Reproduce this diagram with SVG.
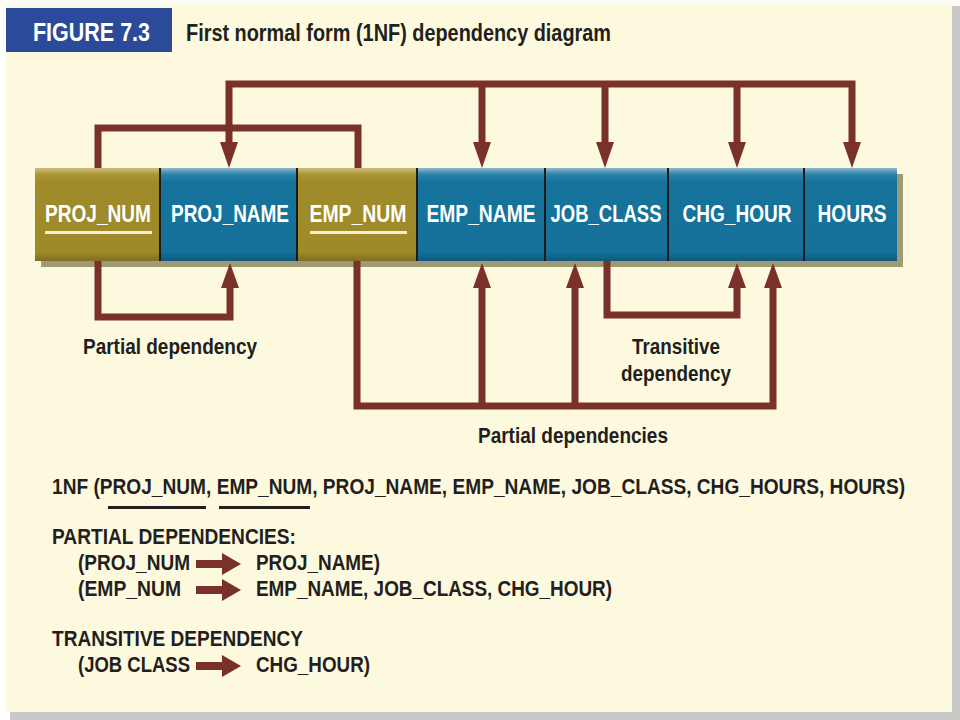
<svg xmlns="http://www.w3.org/2000/svg" width="960" height="720" viewBox="0 0 960 720">
<style>
text{font-family:"Liberation Sans Narrow","Liberation Sans",Arial,sans-serif;font-weight:bold}
.lbl{fill:#ffffff;font-size:23px;text-anchor:middle}
.dk{fill:#231f20;font-size:22px}
.ln{fill:none;stroke:#7a3129;stroke-width:7;stroke-linejoin:miter;stroke-linecap:butt}
.ah{fill:#7a3129}
.blue{fill:url(#gBlue)}
.olive{fill:url(#gOlive)}
.sep{stroke:#1b1b1b;stroke-width:2}
</style>
<defs>
<linearGradient id="gBlue" x1="0" y1="0" x2="0" y2="1">
<stop offset="0" stop-color="#8fb9cf"/>
<stop offset="0.07" stop-color="#2a84a8"/>
<stop offset="0.15" stop-color="#16739a"/>
<stop offset="0.9" stop-color="#15719a"/>
<stop offset="1" stop-color="#0e5a7c"/>
</linearGradient>
<linearGradient id="gOlive" x1="0" y1="0" x2="0" y2="1">
<stop offset="0" stop-color="#cdbf7a"/>
<stop offset="0.07" stop-color="#ab9534"/>
<stop offset="0.15" stop-color="#a08b2a"/>
<stop offset="0.9" stop-color="#9f8a2a"/>
<stop offset="1" stop-color="#7f6e1f"/>
</linearGradient>
</defs>

<!-- page -->
<rect x="0" y="0" width="960" height="720" fill="#ffffff"/>
<rect x="10" y="6" width="950" height="714" fill="#c9c9c9"/>
<rect x="6" y="0" width="946" height="712" fill="#fdf9de"/>
<rect x="0" y="0" width="960" height="6" fill="#fdfcf4"/>

<!-- header -->
<g id="header">
<rect x="6" y="8" width="166" height="44" fill="#2b4a9a"/>
<text x="33" y="41" fill="#ffffff" style="font-size:26px" textLength="117" lengthAdjust="spacingAndGlyphs">FIGURE 7.3</text>
<text x="186" y="41" class="dk" style="font-size:24px" textLength="425" lengthAdjust="spacingAndGlyphs">First normal form (1NF) dependency diagram</text>
</g>

<!-- box shadow -->
<rect x="41" y="174" width="862" height="93" fill="#8e8862" opacity="0.85"/>

<g id="PROJ_NUM">
<rect x="35" y="168" width="125" height="93" class="olive"/>
<text x="98" y="222" class="lbl" textLength="106" lengthAdjust="spacingAndGlyphs">PROJ_NUM</text>
<rect x="45" y="231" width="107" height="3" fill="#f3efd6"/>
</g>
<g id="PROJ_NAME">
<rect x="160" y="168" width="137" height="93" class="blue"/>
<text x="230" y="222" class="lbl" textLength="118" lengthAdjust="spacingAndGlyphs">PROJ_NAME</text>
</g>
<g id="EMP_NUM">
<rect x="297" y="168" width="120" height="93" class="olive"/>
<text x="358" y="222" class="lbl" textLength="97" lengthAdjust="spacingAndGlyphs">EMP_NUM</text>
<rect x="310" y="231" width="97" height="3" fill="#f3efd6"/>
</g>
<g id="EMP_NAME">
<rect x="417" y="168" width="128" height="93" class="blue"/>
<text x="481" y="222" class="lbl" textLength="109" lengthAdjust="spacingAndGlyphs">EMP_NAME</text>
</g>
<g id="JOB_CLASS">
<rect x="545" y="168" width="123" height="93" class="blue"/>
<text x="606" y="222" class="lbl" textLength="111" lengthAdjust="spacingAndGlyphs">JOB_CLASS</text>
</g>
<g id="CHG_HOUR">
<rect x="668" y="168" width="136" height="93" class="blue"/>
<text x="737" y="222" class="lbl" textLength="109" lengthAdjust="spacingAndGlyphs">CHG_HOUR</text>
</g>
<g id="HOURS">
<rect x="804" y="168" width="93" height="93" class="blue"/>
<text x="852" y="222" class="lbl" textLength="69" lengthAdjust="spacingAndGlyphs">HOURS</text>
</g>
<g id="separators">
<line x1="160" y1="168" x2="160" y2="261" class="sep"/>
<line x1="297" y1="168" x2="297" y2="261" class="sep"/>
<line x1="417" y1="168" x2="417" y2="261" class="sep"/>
<line x1="545" y1="168" x2="545" y2="261" class="sep"/>
<line x1="668" y1="168" x2="668" y2="261" class="sep"/>
<line x1="804" y1="168" x2="804" y2="261" class="sep"/>
</g>

<g id="connectors">
<!-- top: key bracket -->
<polyline class="ln" points="98,168 98,128 358,128 358,168"/>
<!-- top: full dependency -->
<polyline class="ln" points="229,144 229,84 852,84 852,144"/>
<line class="ln" x1="482" y1="84" x2="482" y2="144"/>
<line class="ln" x1="605" y1="84" x2="605" y2="144"/>
<line class="ln" x1="737" y1="84" x2="737" y2="144"/>
<polygon class="ah" points="220,142 238,142 229,168"/>
<polygon class="ah" points="473,142 491,142 482,168"/>
<polygon class="ah" points="596,142 614,142 605,168"/>
<polygon class="ah" points="728,142 746,142 737,168"/>
<polygon class="ah" points="843,142 861,142 852,168"/>
<!-- bottom: partial dependency PROJ_NUM -> PROJ_NAME -->
<polyline class="ln" points="98,261 98,317 230,317 230,285"/>
<polygon class="ah" points="221,288 239,288 230,263"/>
<!-- bottom: partial dependencies EMP_NUM -> ... -->
<polyline class="ln" points="357,261 357,406 773,406 773,285"/>
<line class="ln" x1="482" y1="406" x2="482" y2="285"/>
<line class="ln" x1="575" y1="406" x2="575" y2="285"/>
<polygon class="ah" points="473,288 491,288 482,263"/>
<polygon class="ah" points="566,288 584,288 575,263"/>
<polygon class="ah" points="764,288 782,288 773,263"/>
<!-- bottom: transitive dependency -->
<polyline class="ln" points="607,261 607,315 737,315 737,285"/>
<polygon class="ah" points="728,288 746,288 737,263"/>
</g>

<g id="labels">
<text x="83" y="354" class="dk" textLength="174" lengthAdjust="spacingAndGlyphs">Partial dependency</text>
<text x="632" y="354" class="dk" textLength="88" lengthAdjust="spacingAndGlyphs">Transitive</text>
<text x="621" y="381" class="dk" textLength="110" lengthAdjust="spacingAndGlyphs">dependency</text>
<text x="478" y="443" class="dk" textLength="190" lengthAdjust="spacingAndGlyphs">Partial dependencies</text>
</g>

<g id="notation">
<text x="0" y="0" transform="translate(52,494) scale(1,1.16)" class="dk" style="font-size:19px" textLength="853" lengthAdjust="spacingAndGlyphs">1NF (PROJ_NUM, EMP_NUM, PROJ_NAME, EMP_NAME, JOB_CLASS, CHG_HOURS, HOURS)</text>
<rect x="108" y="506" width="98" height="3" fill="#231f20"/>
<rect x="219" y="506" width="91" height="3" fill="#231f20"/>

<text x="52" y="544" class="dk" textLength="244" lengthAdjust="spacingAndGlyphs">PARTIAL DEPENDENCIES:</text>
<text x="78" y="570" class="dk" textLength="112" lengthAdjust="spacingAndGlyphs">(PROJ_NUM</text>
<polygon class="ah" points="196,560 222,560 222,553 241,564 222,575 222,568 196,568"/>
<text x="256" y="570" class="dk" textLength="124" lengthAdjust="spacingAndGlyphs">PROJ_NAME)</text>
<text x="78" y="596" class="dk" textLength="103" lengthAdjust="spacingAndGlyphs">(EMP_NUM</text>
<polygon class="ah" points="196,586 222,586 222,579 241,590 222,601 222,594 196,594"/>
<text x="256" y="596" class="dk" textLength="356" lengthAdjust="spacingAndGlyphs">EMP_NAME, JOB_CLASS, CHG_HOUR)</text>

<text x="52" y="646" class="dk" textLength="251" lengthAdjust="spacingAndGlyphs">TRANSITIVE DEPENDENCY</text>
<text x="78" y="672" class="dk" textLength="112" lengthAdjust="spacingAndGlyphs">(JOB CLASS</text>
<polygon class="ah" points="196,662 222,662 222,655 241,666 222,677 222,670 196,670"/>
<text x="256" y="672" class="dk" textLength="114" lengthAdjust="spacingAndGlyphs">CHG_HOUR)</text>
</g>
</svg>
